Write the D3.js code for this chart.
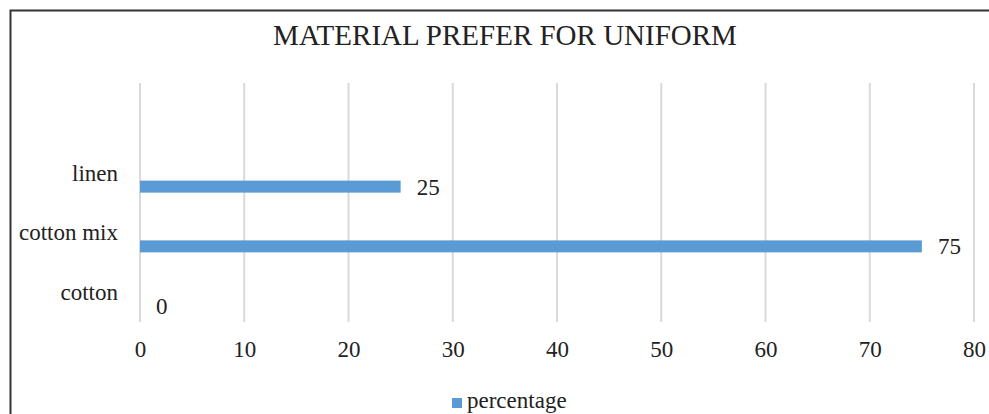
<!DOCTYPE html>
<html>
<head>
<meta charset="utf-8">
<script src="https://cdn.jsdelivr.net/npm/d3@7"></script>
<style>
	html, body { margin: 0; padding: 0; background: #fff; }
	svg { display: block; font-family: "Liberation Serif", "Times New Roman", serif; }
</style>
</head>
<body>
<div id="chart"></div>
<script>

// data
var title = 'MATERIAL PREFER FOR UNIFORM'
var series_name = 'percentage'
var categories = ['cotton', 'cotton mix', 'linen']
var values = [0, 75, 25]
var tick_values = [0, 10, 20, 30, 40, 50, 60, 70, 80]

var Chart = ((d3) => {

	var width = 989,
		height = 414,
		plot_left = 140,
		plot_right = 974,
		plot_top = 83,
		plot_bottom = 322,
		bar_height = 12,
		bar_color = '#5b9bd5',
		grid_color = '#d9d9d9',
		text_color = '#222',
		font_size = 23

	var svg = d3.select('#chart')
		.append('svg')
		.attr('width', width)
		.attr('height', height)

	// outer frame (cut off at right and bottom, as in the picture)
	svg.append('rect')
		.attr('x', 10.5)
		.attr('y', 10.5)
		.attr('width', width + 20)
		.attr('height', height + 20)
		.attr('fill', 'none')
		.attr('stroke', '#333')
		.attr('stroke-width', 2)

	svg.append('text')
		.attr('x', 505)
		.attr('y', 45)
		.attr('text-anchor', 'middle')
		.attr('font-size', 29)
		.attr('fill', text_color)
		.text(title)

	var x = d3.scaleLinear()
		.domain([0, 80])
		.range([plot_left, plot_right])

	// an empty slot sits above the last category, like the original chart
	var y = d3.scaleBand()
		.domain(categories.concat(['']))
		.range([plot_bottom, plot_top])

	// gridlines
	svg.append('g')
		.selectAll('line')
		.data(tick_values)
		.join('line')
			.attr('x1', d => x(d))
			.attr('x2', d => x(d))
			.attr('y1', plot_top)
			.attr('y2', plot_bottom)
			.attr('stroke', grid_color)
			.attr('stroke-width', 2)

	// x axis labels
	var x_axis = svg.append('g')
		.attr('transform', 'translate(0,' + plot_bottom + ')')
		.call(d3.axisBottom(x)
			.tickValues(tick_values)
			.tickSize(0)
			.tickPadding(35)
			.tickFormat(d3.format('d')))

	x_axis.select('.domain').remove()
	x_axis.selectAll('text')
		.attr('font-family', '"Liberation Serif", serif')
		.attr('font-size', font_size)
		.attr('fill', text_color)
		.attr('dy', 0)

	// y axis labels
	var y_axis = svg.append('g')
		.attr('transform', 'translate(' + (plot_left - 22) + ',0)')
		.call(d3.axisLeft(y)
			.tickValues(categories)
			.tickSize(0)
			.tickPadding(0))

	y_axis.select('.domain').remove()
	y_axis.selectAll('text')
		.attr('font-family', '"Liberation Serif", serif')
		.attr('font-size', font_size)
		.attr('fill', text_color)
		.attr('dy', '0.35em')

	var bar_y = d => y(d) + y.bandwidth() / 2 + 8

	var rows = categories.map((c, i) => ({ category: c, value: values[i] }))

	svg.append('g')
		.selectAll('rect')
		.data(rows)
		.join('rect')
			.attr('x', x(0))
			.attr('y', d => bar_y(d.category))
			.attr('width', d => x(d.value) - x(0))
			.attr('height', bar_height)
			.attr('fill', bar_color)

	svg.append('g')
		.selectAll('text')
		.data(rows)
		.join('text')
			.attr('x', d => x(d.value) + 16)
			.attr('y', d => bar_y(d.category) + bar_height / 2 + 8)
			.attr('font-size', font_size)
			.attr('fill', text_color)
			.text(d => d.value)

	// legend
	var legend = svg.append('g')
		.attr('transform', 'translate(452,398)')

	legend.append('rect')
		.attr('width', 10)
		.attr('height', 10)
		.attr('fill', bar_color)

	legend.append('text')
		.attr('x', 15)
		.attr('y', 10)
		.attr('font-size', font_size)
		.attr('fill', text_color)
		.text(series_name)

})(d3)

</script>
</body>
</html>
